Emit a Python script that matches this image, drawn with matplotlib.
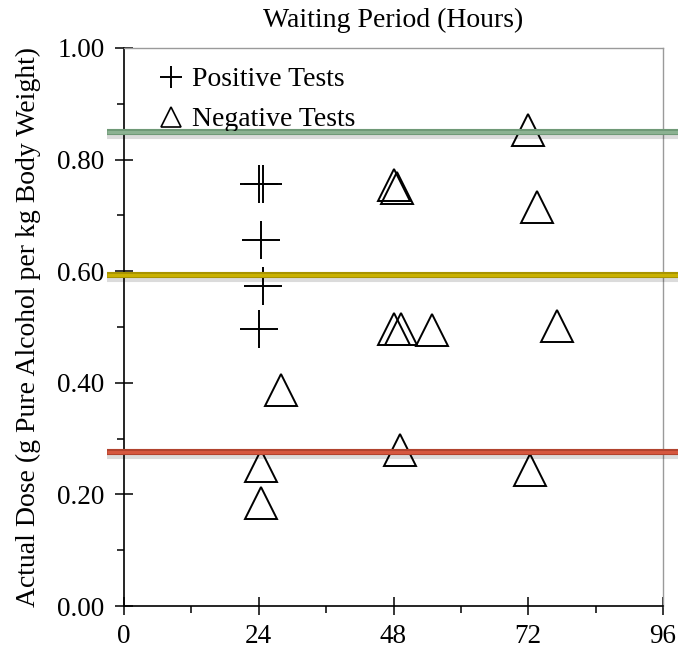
import matplotlib
matplotlib.use('Agg')
import matplotlib.pyplot as plt
import matplotlib.patheffects as pe
from matplotlib.lines import Line2D
from matplotlib.ticker import MultipleLocator, FormatStrFormatter

# Positive tests (plus markers)
pos_hours = [24.0, 24.7, 24.4, 24.8, 24.1]
pos_dose = [0.756, 0.756, 0.656, 0.573, 0.496]

# Negative tests (triangles)
neg_hours = [72.0, 48.0, 48.6, 73.6, 48.0, 49.3, 54.8, 77.2, 28.0, 24.4, 24.4, 49.2, 72.4]
neg_dose = [0.853, 0.755, 0.750, 0.715, 0.496, 0.496, 0.495, 0.502, 0.387, 0.251, 0.185, 0.280, 0.244]

# Highlighted dose levels
ref_levels = [0.850, 0.593, 0.276]
ref_fill = ['#8cb292', '#c9b100', '#d6573f']
ref_edge = ['#6f9977', '#a89400', '#b1432e']

plt.rcParams['font.family'] = ['Liberation Serif', 'DejaVu Serif']

fig = plt.figure(figsize=(6.78, 6.49), dpi=100)
ax = fig.add_axes([124 / 678, 1 - 606 / 649, 539 / 678, 558 / 649])

ax.plot(pos_hours, pos_dose, linestyle='none', marker='+', markersize=27,
        markeredgewidth=1.4, color='black', zorder=3)
ax.plot(neg_hours, neg_dose, linestyle='none', marker='^', markersize=23,
        markeredgewidth=1.4, markerfacecolor='none', markeredgecolor='black', zorder=3)

for lvl, fc, ec in zip(ref_levels, ref_fill, ref_edge):
    ax.plot([-3.0, 100], [lvl, lvl], color=ec, lw=4.4, clip_on=False, zorder=5,
            solid_capstyle='butt',
            path_effects=[pe.SimpleLineShadow(offset=(0, -3), shadow_color='black', alpha=0.14),
                          pe.Normal()])
    ax.plot([-3.0, 100], [lvl, lvl], color=fc, lw=2.2, clip_on=False, zorder=6,
            solid_capstyle='butt')

ax.set_xlim(0, 96)
ax.set_ylim(0, 1.0)
ax.xaxis.set_major_locator(MultipleLocator(24))
ax.xaxis.set_minor_locator(MultipleLocator(12))
ax.yaxis.set_major_locator(MultipleLocator(0.2))
ax.yaxis.set_minor_locator(MultipleLocator(0.1))
ax.yaxis.set_major_formatter(FormatStrFormatter('%.2f'))

ax.tick_params(which='major', direction='inout', length=13, width=1.1, labelsize=19.5)
ax.tick_params(which='minor', direction='out', length=5, width=1.1)
ax.tick_params(axis='y', which='major', pad=7.5)
ax.tick_params(axis='x', which='major', pad=6.5)

for side in ['left', 'bottom']:
    ax.spines[side].set_linewidth(1.2)
for side in ['top', 'right']:
    ax.spines[side].set_color('#9a9a9a')
    ax.spines[side].set_linewidth(1.0)

ax.set_title('Waiting Period (Hours)', fontsize=20, pad=15)
ax.set_ylabel('Actual Dose (g Pure Alcohol per kg Body Weight)', fontsize=20, labelpad=12)

handles = [
    Line2D([], [], linestyle='none', marker='+', markersize=16, markeredgewidth=1.4, color='black'),
    Line2D([], [], linestyle='none', marker='^', markersize=14, markeredgewidth=1.2,
           markerfacecolor='none', markeredgecolor='black'),
]
ax.legend(handles, ['Positive Tests', 'Negative Tests'], loc='upper left',
          bbox_to_anchor=(0.067, 0.966), frameon=False, fontsize=20,
          handlelength=0.8, handletextpad=0.36, labelspacing=0.52, borderpad=0,
          borderaxespad=0)

fig.savefig('out.png', dpi=100)
